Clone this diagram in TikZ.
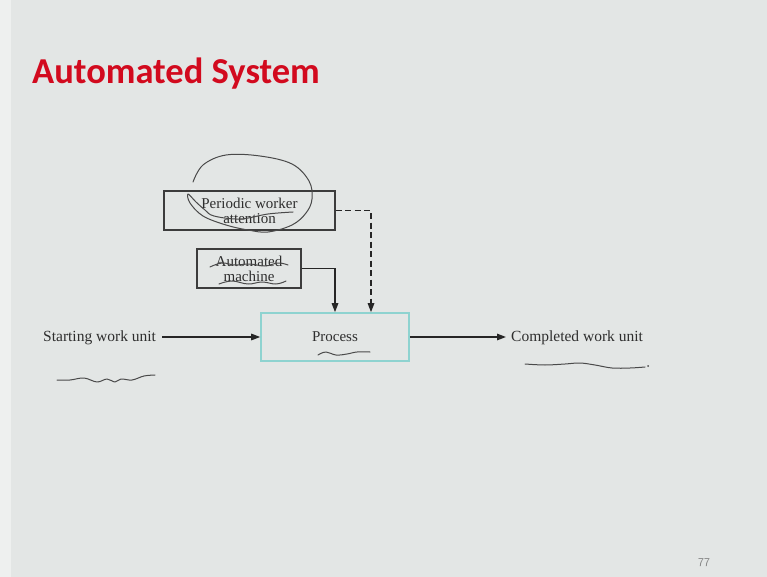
\documentclass[tikz,border=0pt]{standalone}
\usepackage{fontspec}
\setmainfont{Liberation Serif}
\newfontfamily\titlefont{Carlito}
\usetikzlibrary{arrows.meta}
\definecolor{slidebg}{HTML}{E3E6E5}
\definecolor{slideedge}{HTML}{EEF0EF}
\definecolor{titlered}{HTML}{D20A1E}
\definecolor{boxline}{HTML}{3C3C3C}
\definecolor{procline}{HTML}{8ED3D0}
\definecolor{ink}{HTML}{2E2E2E}
\definecolor{pen}{HTML}{4A4A4A}
\tikzset{
  blockbox/.style={draw=boxline, line width=1.2pt, inner sep=0pt, align=center,
    font=\fontsize{15}{15}\selectfont, text=ink},
  label/.style={inner sep=0pt, font=\fontsize{15.5}{16}\selectfont, text=ink, anchor=west},
  flow/.style={draw=black!85, line width=1.4pt, -{Triangle[length=9pt,width=6.5pt]}},
  dashflow/.style={flow, dash pattern=on 6pt off 3.5pt},
  scribble/.style={draw=pen, line width=1pt, line cap=round, line join=round}
}
\begin{document}
\begin{tikzpicture}[x=1pt,y=-1pt]
  % slide background
  \fill[slidebg] (0,0) rectangle (767,577);
  \fill[slideedge] (0,0) rectangle (11,577);
  \useasboundingbox (0,0) rectangle (767,577);

  % title
  \node[anchor=base west, inner sep=0pt, text=titlered,
        font=\titlefont\bfseries\fontsize{36.5}{40}\selectfont] (title) at (32,84) {Automated System};

  % blocks
  \node[blockbox, minimum width=171pt, minimum height=39pt] (pwa) at (249.5,210.5)
    {Periodic worker\\attention};
  \node[blockbox, minimum width=104pt, minimum height=39pt] (am) at (249,268.5)
    {Automated\\machine};
  \node[blockbox, draw=procline, line width=1.6pt, minimum width=148pt, minimum height=48pt]
    (proc) at (335,337) {Process};

  % input and output labels
  \node[label] (start) at (43,338) {Starting work unit};
  \node[label] (done) at (511,338) {Completed work unit};

  % connectors
  \draw[flow] ([xshift=6pt]start.east |- proc.west) -- (proc.west);
  \draw[flow] (proc.east) -- ([xshift=-5pt]done.west |- proc.east);
  \coordinate (amturn) at (335,268.5);
  \draw[flow] (am.east) -- (amturn) -- (amturn |- proc.north);
  \coordinate (pwaturn) at (371,210.5);
  \draw[dashflow] (pwa.east) -- (pwaturn) -- (pwaturn |- proc.north);

  % hand-drawn loop around the worker block
  \draw[scribble] plot[smooth, tension=0.6] coordinates {
    (193,182) (203,165) (226,155) (260,156) (292,164) (309,181) (312,199)
    (306,213) (292,225) (268,232) (248,230) (226,225) (203,216) (190,203)
    (188,194) (196,202) (205,210) (214,216) (240,219) (268,214) (293,212)};
  % hand-drawn underlines
  \draw[scribble] plot[smooth, tension=0.7] coordinates {
    (210,267) (222,263) (235,265) (250,264) (265,266) (278,263) (288,265)};
  \draw[scribble] plot[smooth, tension=0.7] coordinates {
    (219,284) (232,281) (248,284) (262,282) (276,284) (286,281)};
  \draw[scribble] plot[smooth, tension=0.7] coordinates {
    (318,355) (326,352) (336,355) (347,354) (357,352) (370,352)};
  \draw[scribble] plot[smooth, tension=0.6] coordinates {
    (57,380) (70,380) (84,378) (97,382) (107,379) (115,382) (121,379) (132,380)
    (144,376) (155,375)};
  \draw[scribble] plot[smooth, tension=0.6] coordinates {
    (525,364) (545,365) (565,364) (580,363) (595,365) (612,368) (630,368) (645,367)};
  \fill[pen] (648,366) circle (1pt);

  % page number
  \node[anchor=base, inner sep=0pt, text=black!50,
        font=\fontfamily{lmss}\fontsize{12}{12}\selectfont] (pageno) at (704,566) {77};
\end{tikzpicture}
\end{document}
